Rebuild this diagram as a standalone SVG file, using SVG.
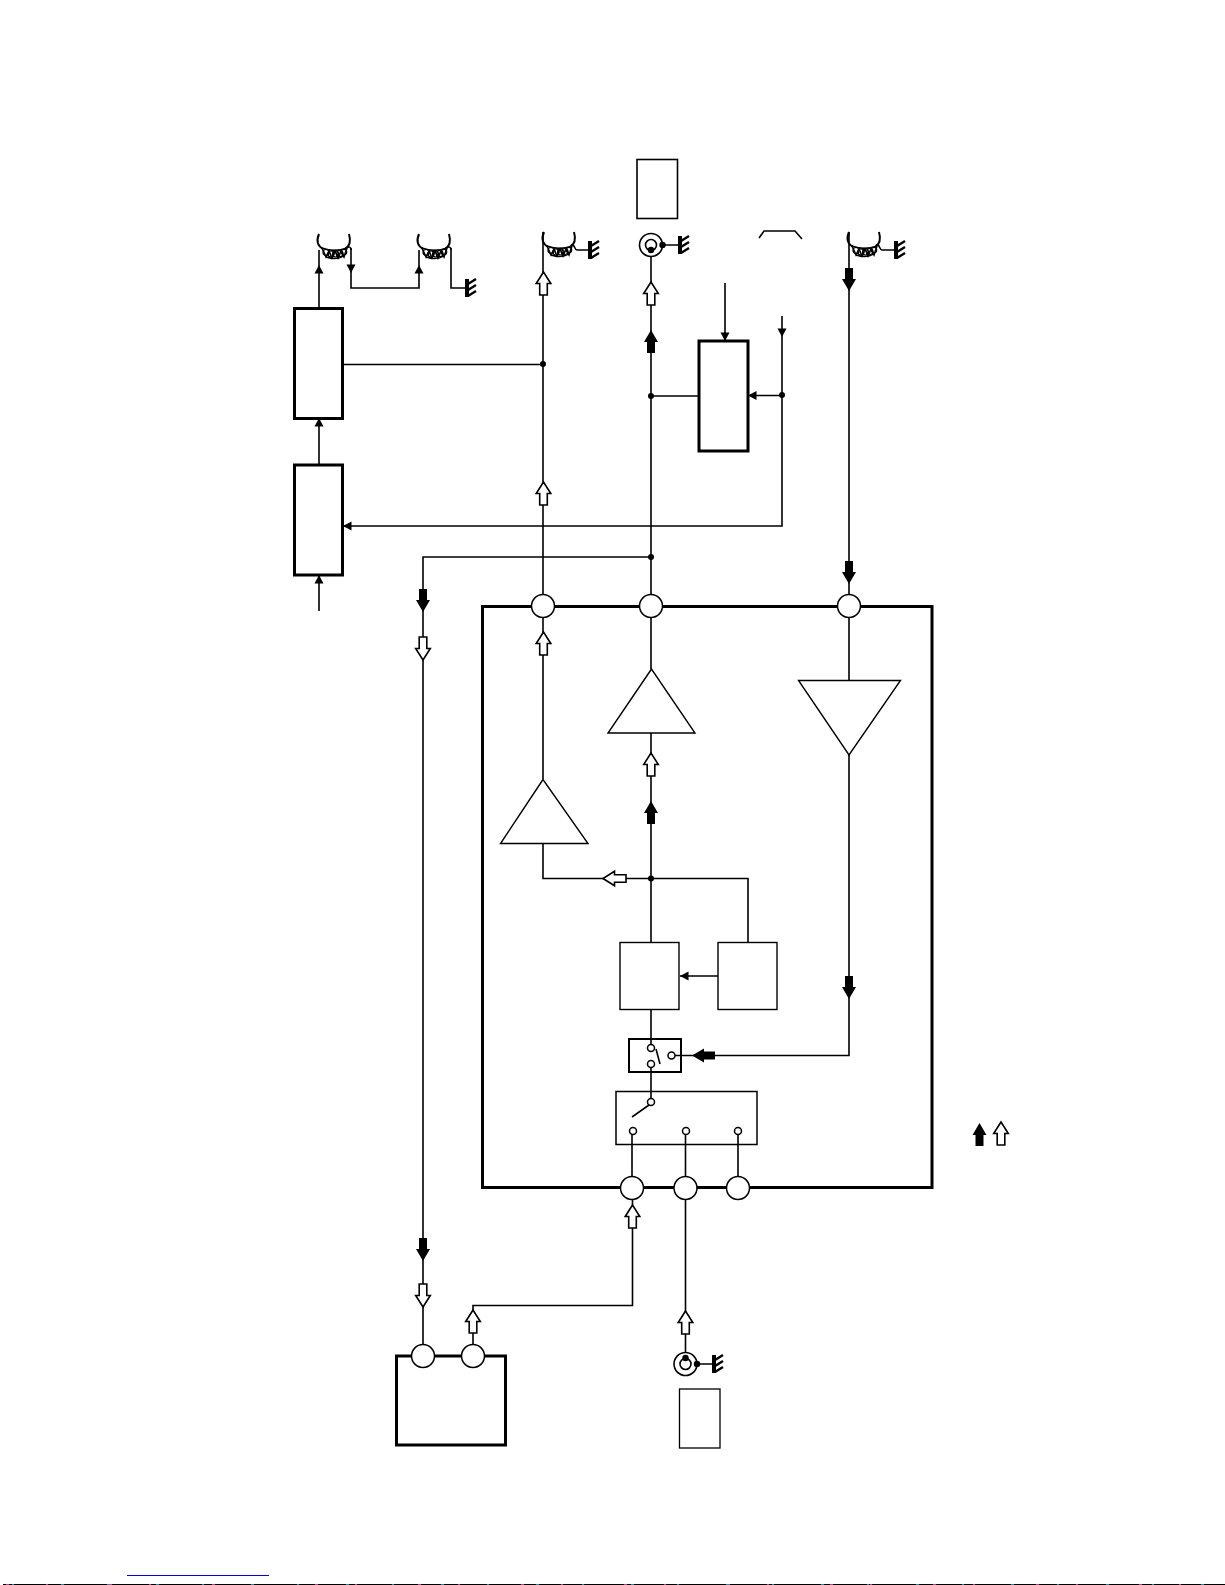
<svg xmlns="http://www.w3.org/2000/svg" xmlns:xlink="http://www.w3.org/1999/xlink" width="1225" height="1585" viewBox="0 0 1225 1585">
<style>
.w{fill:none;stroke:#000;stroke-width:1.6}
.b{fill:#fff;stroke:#000;stroke-width:3}
.t{fill:#fff;stroke:#000;stroke-width:1.4}
.p{fill:#fff;stroke:#000;stroke-width:1.5}
.d{fill:#000;stroke:none}
.o{fill:#fff;stroke:#000;stroke-width:1.6}
</style>
<defs>
<path id="au" class="d" d="M0 0L-7 12H-4V23H4V12H7Z"/>
<path id="ao" class="o" d="M0 0L-7.300 11.500H-3.800V23H3.800V11.500H7.300Z"/>
<path id="h" class="d" d="M0 0L-4.500 8.500H4.500Z"/>
<g id="gnd"><path d="M0 -9V9" fill="none" stroke="#000" stroke-width="4"/><path d="M1 -4L9 -9M1 2L9 -3M1 8L9 3" fill="none" stroke="#000" stroke-width="2.400"/></g>
<g id="coil"><path d="M1 0C-2 7 0 12 5 15M31 0C33 7 32 12 27 15" fill="none" stroke="#000" stroke-width="2"/>
<path d="M4 14L8 23L11 17L14 24L17 17L20 24L23 17L26 23L29 14" fill="none" stroke="#000" stroke-width="1.600"/>
<path d="M4 14C12 17 21 17 29 14" fill="none" stroke="#000" stroke-width="1.600"/>
<path d="M8 23C14 25 21 25 26 22" fill="none" stroke="#000" stroke-width="1.400"/>
<g fill="none" stroke="#000" stroke-width="1.200"><circle cx="8" cy="18.500" r="3"/><circle cx="13" cy="20" r="3"/><circle cx="17.500" cy="20" r="3"/><circle cx="22" cy="19.500" r="3"/><circle cx="26" cy="18" r="2.700"/></g></g>
<g id="coax"><circle r="11.500" fill="#fff" stroke="#000" stroke-width="1.600"/><circle r="5.500" fill="#fff" stroke="#000" stroke-width="1.600"/></g>
</defs>

<g id="connectors">
<path class="w" d="M319 308V250M319 465V418M319 611V575"/>
<path class="w" d="M351 248V288H419V250M451 248V288H467"/>
<path class="w" d="M343 364.500H543"/>
<path class="w" d="M543 232V606M651 250V606M849 232V606"/>
<path class="w" d="M651 396H699M725 283V341M782 316V526H343M782 395.500H748"/>
<path class="w" d="M423 1356V557H651"/>
<path class="w" d="M543 617V779M651 617V669M849 617V680M849 755V1055.500H675"/>
<path class="w" d="M543 843V878.500H748V942M651 733V942M651 1009V1044M651 1068V1098M718 976H680"/>
<path class="w" d="M632 1135V1176M685.500 1135V1176M738 1135V1176M632.500 1199V1305.500H473V1345M685.500 1199V1353"/>
<path class="w" d="M663 245H680M697 1364H713M577 250H590M882 250H896"/>
</g>

<g id="arrowheads">
<use xlink:href="#h" x="319" y="265"/><use xlink:href="#h" x="319" y="418"/><use xlink:href="#h" x="319" y="575"/>
<use xlink:href="#h" transform="translate(351 273) rotate(180)"/><use xlink:href="#h" x="419" y="265"/>
<use xlink:href="#h" transform="translate(725 341) rotate(180)"/><use xlink:href="#h" transform="translate(782 337) rotate(180)"/>
<use xlink:href="#h" transform="translate(748 395.500) rotate(-90)"/><use xlink:href="#h" transform="translate(343 526) rotate(-90)"/><use xlink:href="#h" transform="translate(680 976) rotate(-90)"/>
<use xlink:href="#ao" x="543.500" y="272"/><use xlink:href="#ao" x="543.500" y="482"/><use xlink:href="#ao" x="543.500" y="632"/>
<use xlink:href="#ao" x="651" y="282"/><use xlink:href="#au" x="651" y="330"/>
<use xlink:href="#ao" x="651" y="753"/><use xlink:href="#au" x="651" y="801"/>
<use xlink:href="#au" transform="translate(849 291) rotate(180)"/><use xlink:href="#au" transform="translate(849 584) rotate(180)"/><use xlink:href="#au" transform="translate(849 999) rotate(180)"/>
<use xlink:href="#au" transform="translate(423 612) rotate(180)"/><use xlink:href="#ao" transform="translate(423 660) rotate(180)"/>
<use xlink:href="#au" transform="translate(423 1261) rotate(180)"/><use xlink:href="#ao" transform="translate(423 1307) rotate(180)"/>
<use xlink:href="#ao" x="473" y="1310"/><use xlink:href="#ao" x="632.500" y="1205"/><use xlink:href="#ao" x="685.500" y="1311"/>
<use xlink:href="#ao" transform="translate(603 878.500) rotate(-90)"/>
<use xlink:href="#au" transform="translate(692 1055.500) rotate(-90)"/>
</g>

<g id="coil-1"><use xlink:href="#coil" x="318" y="234"/><path class="w" d="M346 248C349 246 351 247 351 250"/></g>
<g id="coil-2"><use xlink:href="#coil" x="418" y="234"/><path class="w" d="M446 248C449 246 451 247 451 250"/></g>
<g id="coil-3"><use xlink:href="#coil" x="543" y="232"/><path class="w" d="M571 245C575 243 574 250 577 250"/><use xlink:href="#gnd" x="590" y="250"/></g>
<g id="coil-4"><use xlink:href="#coil" x="848" y="232"/><path class="w" d="M876 245C880 243 879 250 882 250"/><use xlink:href="#gnd" x="896" y="250"/></g>
<g id="ground-2"><use xlink:href="#gnd" x="467" y="288"/></g>

<g id="coax-top"><use xlink:href="#coax" x="651" y="245"/><circle class="d" cx="651" cy="250" r="3.200"/><circle class="d" cx="662.500" cy="245" r="3.200"/><use xlink:href="#gnd" x="680" y="245"/></g>
<g id="coax-bottom"><use xlink:href="#coax" x="685.500" y="1364"/><circle class="d" cx="685.500" cy="1358" r="3.200"/><circle class="d" cx="697" cy="1364" r="3.200"/><use xlink:href="#gnd" x="714" y="1364"/></g>

<g id="box-top"><rect x="637" y="159.500" width="40.500" height="59" fill="#fff" stroke="#000" stroke-width="1.600"/></g>
<g id="box-bottom"><rect x="679.500" y="1389" width="40.500" height="59" fill="#fff" stroke="#000" stroke-width="1.300"/></g>
<g id="bracket"><path class="w" d="M759 238L764 231H795L802 239"/></g>
<g id="box-1"><rect class="b" x="294.500" y="308.500" width="48" height="110"/></g>
<g id="box-2"><rect class="b" x="294.500" y="465" width="48" height="110"/></g>
<g id="box-3"><rect class="b" x="699" y="341" width="49" height="110"/></g>

<g id="main-box"><rect x="482.500" y="606.500" width="449.500" height="581" fill="none" stroke="#000" stroke-width="3"/></g>
<g id="tri-1"><path class="t" d="M651.500 669L608 733H695Z"/></g>
<g id="tri-2"><path class="t" d="M543 779.500L500.500 843.500H588Z"/></g>
<g id="tri-3"><path class="t" d="M798.500 680.500H900.500L849 755Z"/></g>
<g id="box-a"><rect class="t" x="620" y="942.500" width="59" height="67"/></g>
<g id="box-b"><rect class="t" x="718" y="942.500" width="59" height="67"/></g>
<g id="switch"><rect x="629" y="1039" width="52" height="33" fill="none" stroke="#000" stroke-width="2"/><path class="w" d="M656 1049L660 1064"/><circle class="p" cx="651" cy="1048" r="3.500"/><circle class="p" cx="651" cy="1064" r="3.500"/><circle class="p" cx="671.500" cy="1055.500" r="3.500"/></g>
<g id="selector"><rect x="616" y="1091.500" width="141" height="53" fill="none" stroke="#000" stroke-width="1.500"/><path class="w" d="M649 1105L632 1117"/><circle class="p" cx="651" cy="1102" r="3.500"/><circle class="p" cx="633" cy="1131" r="3.500"/><circle class="p" cx="686" cy="1131" r="3.500"/><circle class="p" cx="738" cy="1131" r="3.500"/></g>

<g id="port-1"><circle class="p" cx="543" cy="606" r="11.500"/></g>
<g id="port-2"><circle class="p" cx="651" cy="606" r="11.500"/></g>
<g id="port-3"><circle class="p" cx="849" cy="606" r="11.500"/></g>
<g id="port-4"><circle class="p" cx="632" cy="1188" r="11.500"/></g>
<g id="port-5"><circle class="p" cx="685.500" cy="1188" r="11.500"/></g>
<g id="port-6"><circle class="p" cx="738" cy="1188" r="11.500"/></g>

<g id="battery"><path fill="#fff" stroke="#000" stroke-width="3" d="M396.500 1356H505.500V1445H396.500Z"/><circle class="p" cx="423" cy="1356" r="11.500"/><circle class="p" cx="473" cy="1356" r="11.500"/></g>

<g id="junctions">
<circle class="d" cx="543" cy="364" r="3"/><circle class="d" cx="651" cy="396" r="3"/><circle class="d" cx="782" cy="395" r="3"/><circle class="d" cx="651" cy="557" r="3"/><circle class="d" cx="651" cy="878.500" r="3"/>
</g>

<g id="legend"><use xlink:href="#au" x="979.500" y="1123"/><use xlink:href="#ao" x="1001" y="1122"/></g>

<g id="footer">
<path d="M127 1575.500H269" stroke="#0000e0" stroke-width="1" fill="none"/>
<path d="M3 1584.500H1225" stroke="#000" stroke-width="1" fill="none"/>
<path d="M6 1584.500H1225" stroke="#c04090" stroke-width="1" fill="none" stroke-dasharray="3 37 2 61"/>
<path d="M12 1584.500H1225" stroke="#2090a0" stroke-width="1" fill="none" stroke-dasharray="2 47 3 43"/>
</g>
</svg>
